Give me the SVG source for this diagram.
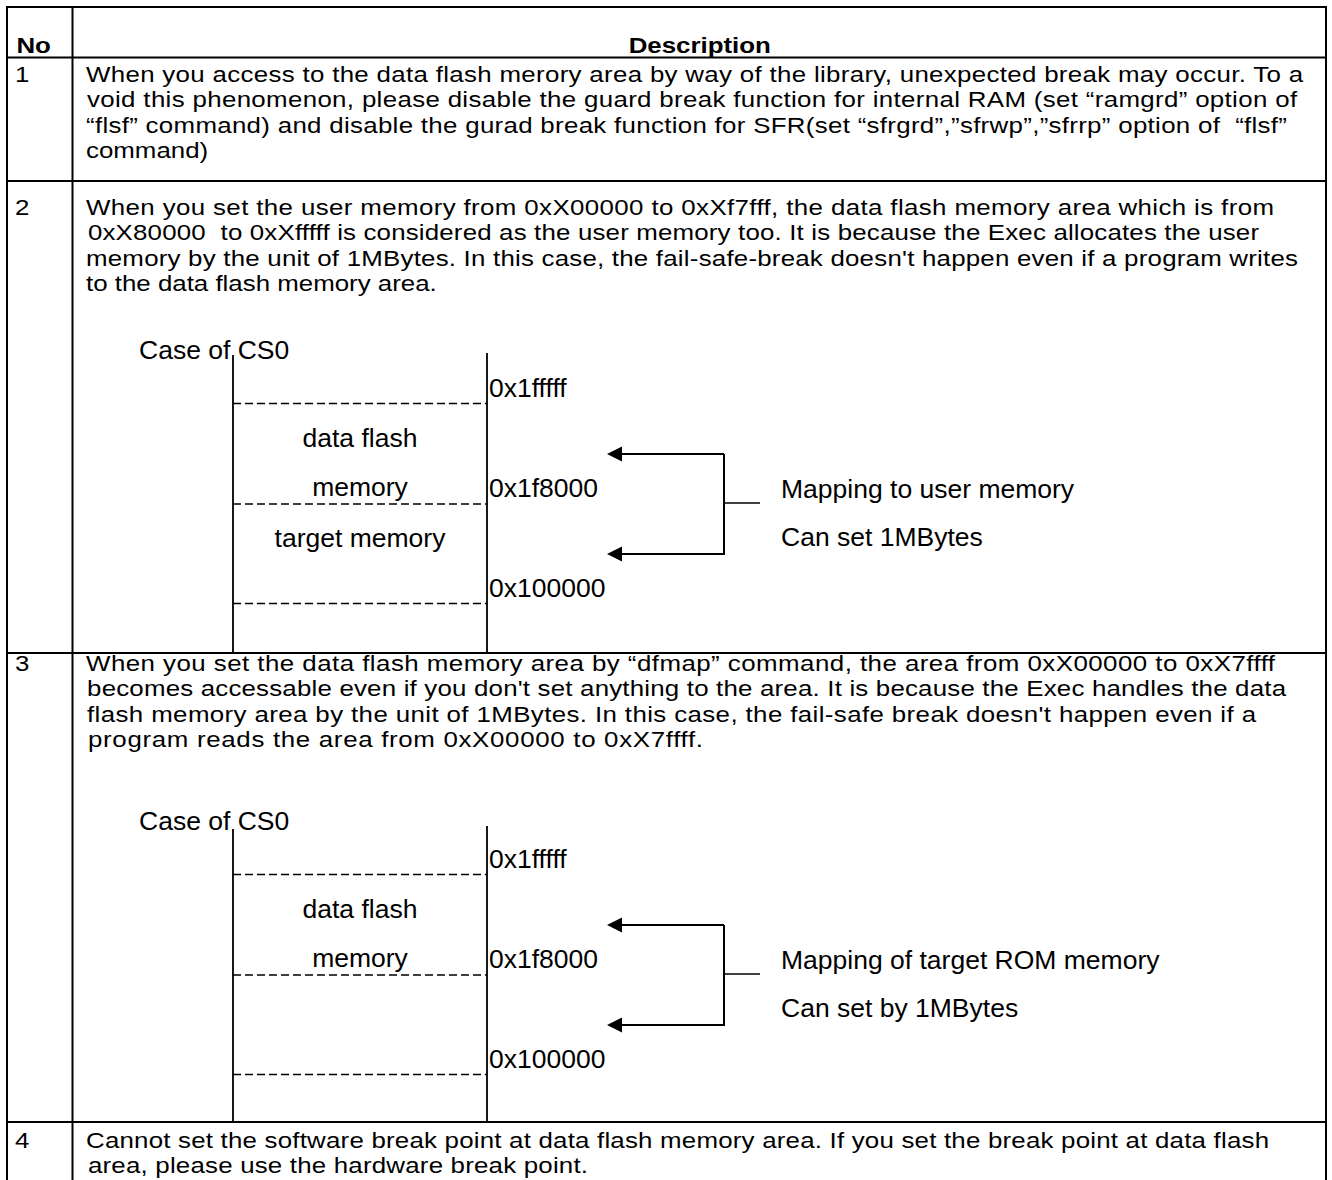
<svg xmlns="http://www.w3.org/2000/svg" width="1332" height="1180" viewBox="0 0 1332 1180">
<style>
.b{font-family:"Liberation Sans",Arial,sans-serif;font-size:22.5px;fill:#000}
.h{font-weight:bold}
.d{font-family:"Liberation Sans",Arial,sans-serif;font-size:26.5px;fill:#000}
.m{text-anchor:middle}
.grid{stroke:#000;stroke-width:2;fill:none}
.vl{stroke:#000;stroke-width:1.8;fill:none}
.dash{stroke:#000;stroke-width:1.3;stroke-dasharray:8 4;fill:none}
.arr{stroke:#000;stroke-width:2;fill:none}
.stub{stroke:#000;stroke-width:1.6;fill:none}
</style>
<defs>
<marker id="ah" markerUnits="userSpaceOnUse" markerWidth="15" markerHeight="16" refX="9" refY="7.5" orient="auto">
<path d="M0,0 L15,7.5 L0,15 z" fill="#000"/>
</marker>
</defs>
<rect width="1332" height="1180" fill="#fff"/>

<g id="table">
<path class="grid" d="M7,1180 V7 H1326 V1180 M72.5,7 V1180 M7,57.5 H1326 M7,181 H1326 M7,653 H1326 M7,1122 H1326"/>
</g>

<g transform="scale(1.15 1)">
<g id="header">
<text class="b h" x="14.3" y="53.5">No</text>
<text class="b h m" x="608.5" y="53.5">Description</text>
</g>
<g id="row1">
<text class="b" x="13" y="82">1</text>
<text class="b" x="74.8" y="82" textLength="1058.3" lengthAdjust="spacing">When you access to the data flash merory area by way of the library, unexpected break may occur. To a</text>
<text class="b" x="75.7" y="107.5" textLength="1052.2" lengthAdjust="spacing">void this phenomenon, please disable the guard break function for internal RAM (set “ramgrd” option of</text>
<text class="b" x="74.8" y="133" textLength="1044.3" lengthAdjust="spacing" xml:space="preserve">“flsf” command) and disable the gurad break function for SFR(set “sfrgrd”,”sfrwp”,”sfrrp” option of  “flsf”</text>
<text class="b" x="74.8" y="158.5">command)</text>
</g>
<g id="row2">
<text class="b" x="13" y="215">2</text>
<text class="b" x="74.8" y="215" textLength="1033" lengthAdjust="spacing">When you set the user memory from 0xX00000 to 0xXf7fff, the data flash memory area which is from</text>
<text class="b" x="76.5" y="240.5" textLength="1018.3" lengthAdjust="spacing" xml:space="preserve">0xX80000  to 0xXfffff is considered as the user memory too. It is because the Exec allocates the user</text>
<text class="b" x="74.8" y="266" textLength="1053.9" lengthAdjust="spacing">memory by the unit of 1MBytes. In this case, the fail-safe-break doesn't happen even if a program writes</text>
<text class="b" x="74.8" y="291.5">to the data flash memory area.</text>
</g>
<g id="row3">
<text class="b" x="13" y="671">3</text>
<text class="b" x="74.8" y="671" textLength="1033.9" lengthAdjust="spacing">When you set the data flash memory area by “dfmap” command, the area from 0xX00000 to 0xX7ffff</text>
<text class="b" x="75.7" y="696.5" textLength="1042.6" lengthAdjust="spacing">becomes accessable even if you don't set anything to the area. It is because the Exec handles the data</text>
<text class="b" x="75.7" y="722" textLength="1016.5" lengthAdjust="spacing">flash memory area by the unit of 1MBytes. In this case, the fail-safe break doesn't happen even if a</text>
<text class="b" x="76.5" y="747.5" textLength="534.8" lengthAdjust="spacing">program reads the area from 0xX00000 to 0xX7ffff.</text>
</g>
<g id="row4">
<text class="b" x="13" y="1148">4</text>
<text class="b" x="74.8" y="1148" textLength="1028.7" lengthAdjust="spacing">Cannot set the software break point at data flash memory area. If you set the break point at data flash</text>
<text class="b" x="76.5" y="1173" textLength="434.8" lengthAdjust="spacing">area, please use the hardware break point.</text>
</g>
</g>

<g id="diagram1">
<text class="d" x="139" y="359">Case of CS0</text>
<path class="vl" d="M233,355 V653 M487,353 V653"/>
<path class="dash" d="M233,403.5 H487 M233,504 H487 M233,603.5 H487"/>
<text class="d" x="489" y="397">0x1fffff</text>
<text class="d" x="489" y="497">0x1f8000</text>
<text class="d" x="489" y="597">0x100000</text>
<text class="d m" x="360" y="447">data flash</text>
<text class="d m" x="360" y="496">memory</text>
<text class="d m" x="360" y="547">target memory</text>
<text class="d" x="781" y="498">Mapping to user memory</text>
<text class="d" x="781" y="546">Can set 1MBytes</text>
</g>

<g id="diagram2">
<text class="d" x="139" y="830">Case of CS0</text>
<path class="vl" d="M233,829 V1122 M487,826 V1122"/>
<path class="dash" d="M233,874.5 H487 M233,975 H487 M233,1074.5 H487"/>
<text class="d" x="489" y="868">0x1fffff</text>
<text class="d" x="489" y="968">0x1f8000</text>
<text class="d" x="489" y="1068">0x100000</text>
<text class="d m" x="360" y="918">data flash</text>
<text class="d m" x="360" y="967">memory</text>
<text class="d" x="781" y="969">Mapping of target ROM memory</text>
<text class="d" x="781" y="1017">Can set by 1MBytes</text>
</g>

<g id="connectors">
<path class="arr" d="M724,454 H613" marker-end="url(#ah)"/>
<path class="arr" d="M724,454 V554 H613" marker-end="url(#ah)"/>
<path class="stub" d="M724,503 H760"/>
<path class="arr" d="M724,925 H613" marker-end="url(#ah)"/>
<path class="arr" d="M724,925 V1025 H613" marker-end="url(#ah)"/>
<path class="stub" d="M724,974 H760"/>
</g>
</svg>
